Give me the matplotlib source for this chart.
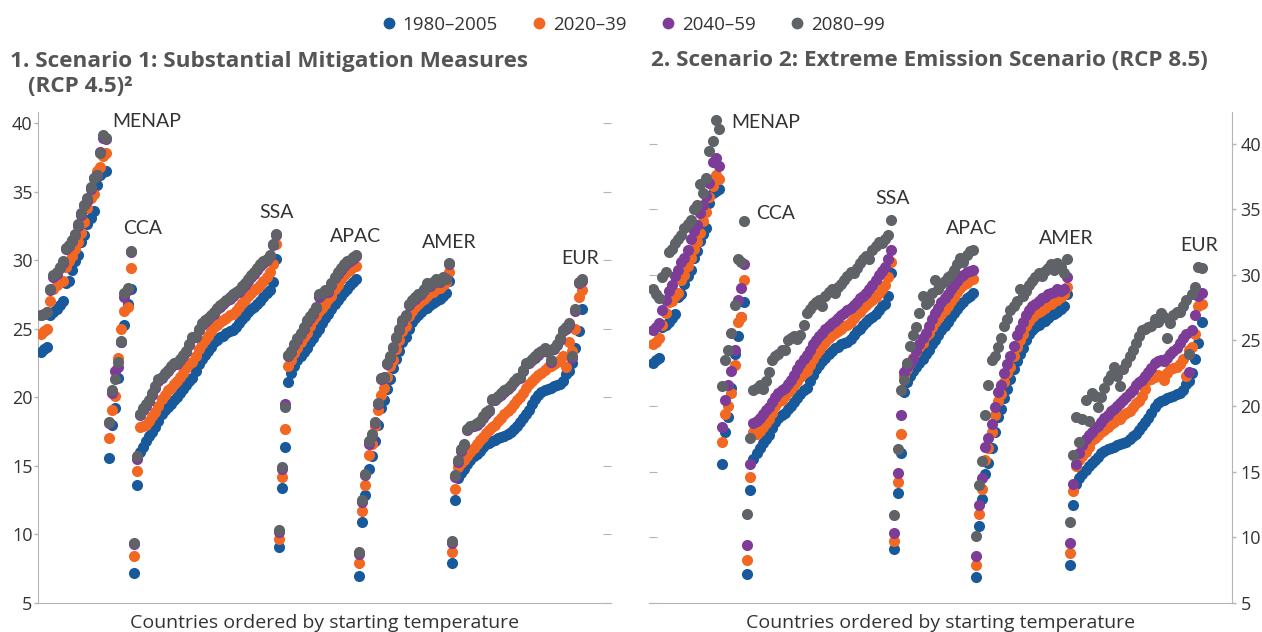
import matplotlib.pyplot as plt
from matplotlib.lines import Line2D

plt.rcParams['font.family'] = ['Open Sans', 'DejaVu Sans']

periods = ['1980–2005', '2020–39', '2040–59', '2080–99']
colors = ['#17599b', '#f26722', '#7d3c98', '#5f6368']
regions = ['MENAP', 'CCA', 'SSA', 'APAC', 'AMER', 'EUR']

# 1980-2005 baseline (same in both scenarios), countries ordered by starting temperature
menap_base = [23.3, 23.5, 23.7, 26.0, 26.2, 26.4, 26.7, 27.0, 28.3, 28.5, 29.3, 29.9, 30.4, 31.3, 31.8, 32.6,
              33.1, 33.6, 35.5, 36.2, 36.4, 36.5]
cca_base = [15.6, 18.0, 19.2, 21.4, 24.0, 25.3, 26.8, 27.9]
ssa_base = [7.2, 13.6, 16.0, 16.4, 16.8, 17.2, 17.5, 17.8, 18.3, 18.8, 19.1, 19.3, 19.5, 19.8, 20.0, 20.3,
            20.6, 20.9, 21.2, 21.4, 21.9, 22.4, 22.8, 23.1, 23.4, 23.7, 24.0, 24.2, 24.4, 24.5, 24.7, 24.8,
            24.9, 25.1, 25.4, 25.7, 25.9, 26.2, 26.4, 26.6, 26.8, 27.0, 27.3, 27.6, 27.8, 28.4, 30.1]
apac_base = [9.1, 13.4, 16.4, 21.1, 21.8, 22.3, 22.7, 23.0, 23.3, 23.6, 24.0, 24.3, 24.7, 25.0, 25.4, 25.8,
             26.1, 26.4, 26.8, 27.1, 27.4, 27.7, 27.9, 28.2, 28.4, 28.6]
amer_base = [7.0, 10.9, 12.9, 14.8, 15.7, 16.8, 18.0, 19.2, 19.8, 20.6, 21.3, 22.1, 22.8, 23.4, 24.0, 24.4,
             25.0, 25.5, 25.8, 26.0, 26.2, 26.4, 26.5, 26.7, 26.9, 27.0, 27.2, 27.4, 27.6, 28.5]
eur_base = [7.9, 12.5, 14.1, 14.5, 14.8, 15.1, 15.4, 15.7, 15.9, 16.1, 16.4, 16.6, 16.7, 16.8, 16.9, 17.0,
            17.1, 17.2, 17.3, 17.5, 17.7, 17.9, 18.2, 18.5, 18.8, 19.1, 19.5, 19.9, 20.2, 20.4, 20.5, 20.6,
            20.7, 20.8, 20.9, 21.0, 21.2, 21.7, 21.9, 22.5, 23.6, 24.8, 26.4]

# Scenario 1 (RCP 4.5)
menap_s1_2030 = [24.6, 24.8, 25.0, 27.0, 27.9, 28.2, 28.4, 28.5, 29.5, 29.9, 30.3, 30.8, 31.3, 32.0, 32.8, 33.8,
                 34.5, 34.8, 36.5, 36.8, 37.6, 37.8]
menap_s1_2050 = [26.0, 26.1, 26.2, 27.8, 28.8, 29.0, 29.4, 29.8, 30.8, 31.0, 31.4, 31.8, 32.5, 33.3, 34.0, 34.3,
                 35.2, 36.0, 36.2, 37.9, 38.9, 38.8]
menap_s1_2090 = [26.0, 26.1, 26.2, 27.9, 28.9, 29.1, 29.5, 29.9, 30.9, 31.1, 31.5, 31.9, 32.6, 33.4, 34.0, 34.5,
                 35.3, 36.0, 36.2, 37.8, 39.1, 38.9]
cca_s1_2030 = [17.0, 19.1, 20.1, 22.9, 25.0, 26.3, 26.6, 29.4]
cca_s1_2050 = [18.1, 20.3, 21.9, 22.2, 24.0, 27.3, 27.8, 30.6]
cca_s1_2090 = [18.2, 20.5, 21.3, 22.6, 24.1, 27.6, 28.0, 30.7]
ssa_s1_2030 = [8.4, 14.6, 17.8, 17.9, 18.0, 18.3, 18.6, 18.9, 19.4, 19.9, 20.2, 20.5, 20.7, 21.0, 21.2, 21.5,
               21.8, 22.1, 22.4, 22.6, 23.0, 23.5, 23.9, 24.2, 24.5, 24.8, 25.1, 25.3, 25.5, 25.6, 25.8, 26.0,
               26.1, 26.3, 26.6, 26.9, 27.1, 27.4, 27.6, 27.8, 28.0, 28.2, 28.5, 28.8, 29.1, 29.7, 31.2]
ssa_s1_2050 = [9.3, 15.5, 18.7, 19.1, 19.4, 19.7, 20.2, 20.7, 21.2, 21.4, 21.7, 21.9, 22.2, 22.4, 22.4, 22.7,
               23.0, 23.3, 23.8, 24.3, 24.4, 24.9, 25.3, 25.5, 25.7, 25.9, 26.1, 26.4, 26.6, 26.8, 27.0, 27.2,
               27.4, 27.6, 27.7, 28.0, 28.2, 28.5, 28.8, 29.0, 29.3, 29.6, 29.8, 30.0, 30.3, 31.1, 31.8]
ssa_s1_2090 = [9.4, 15.7, 18.8, 19.2, 19.5, 19.8, 20.3, 20.8, 21.3, 21.5, 21.8, 22.0, 22.3, 22.5, 22.5, 22.8,
               23.1, 23.4, 23.9, 24.4, 24.5, 25.0, 25.4, 25.6, 25.8, 26.0, 26.2, 26.5, 26.7, 26.9, 27.1, 27.3,
               27.5, 27.7, 27.8, 28.1, 28.3, 28.6, 28.9, 29.1, 29.4, 29.7, 29.9, 30.1, 30.4, 31.2, 31.9]
apac_s1_2030 = [9.7, 14.2, 17.7, 22.3, 22.7, 23.2, 23.6, 24.0, 24.4, 24.7, 25.2, 25.6, 25.9, 26.3, 26.5, 26.8,
                27.2, 27.4, 27.9, 28.2, 28.6, 28.9, 29.1, 29.3, 29.5, 29.6]
apac_s1_2050 = [10.2, 14.8, 19.5, 23.0, 23.3, 23.8, 24.2, 24.6, 25.0, 25.5, 25.8, 26.1, 26.5, 27.3, 27.5, 27.7,
                27.7, 28.2, 28.7, 29.0, 29.3, 29.6, 29.8, 29.9, 30.1, 30.3]
apac_s1_2090 = [10.3, 14.9, 19.3, 23.1, 23.4, 23.9, 24.3, 24.7, 25.1, 25.6, 25.9, 26.2, 26.6, 27.5, 27.6, 27.8,
                27.8, 28.3, 28.8, 29.1, 29.4, 29.7, 29.9, 30.0, 30.2, 30.4]
amer_s1_2030 = [7.9, 11.7, 13.6, 15.8, 16.6, 17.9, 19.1, 20.2, 20.7, 21.5, 22.3, 22.7, 23.5, 24.2, 24.8, 25.2,
                25.9, 26.3, 26.6, 26.8, 27.0, 27.2, 27.4, 27.6, 27.7, 27.9, 28.0, 28.2, 28.4, 29.1]
amer_s1_2050 = [8.6, 12.4, 14.3, 16.6, 17.2, 18.1, 19.5, 21.3, 21.4, 22.4, 22.9, 23.6, 24.3, 24.9, 25.5, 25.9,
                26.7, 27.0, 27.2, 27.4, 27.5, 27.8, 28.2, 28.1, 28.3, 28.5, 28.4, 28.7, 28.6, 29.7]
amer_s1_2090 = [8.7, 12.5, 14.4, 16.8, 17.3, 18.2, 19.6, 21.4, 21.5, 22.5, 23.0, 23.7, 24.4, 25.0, 25.6, 26.0,
                26.8, 27.1, 27.3, 27.5, 27.6, 27.9, 28.3, 28.2, 28.4, 28.6, 28.5, 28.8, 28.6, 29.8]
eur_s1_2030 = [8.7, 13.3, 14.9, 15.2, 15.4, 15.7, 16.0, 16.3, 16.6, 16.9, 17.1, 17.4, 17.6, 17.8, 18.0, 18.3,
               18.5, 18.8, 19.0, 19.2, 19.5, 19.8, 20.0, 20.3, 20.7, 21.0, 21.2, 21.4, 21.6, 21.8, 22.0, 22.2,
               22.3, 22.4, 22.6, 22.7, 23.0, 22.2, 24.0, 23.4, 25.0, 27.3, 27.8]
eur_s1_2050 = [9.4, 14.2, 15.3, 16.1, 16.5, 17.6, 17.8, 17.9, 18.0, 18.2, 18.5, 18.8, 19.0, 19.8, 19.8, 20.0,
               20.2, 20.4, 20.6, 20.8, 21.1, 21.3, 21.4, 21.9, 22.4, 22.5, 22.7, 22.9, 23.1, 23.3, 23.5, 23.3,
               22.6, 23.5, 23.8, 24.2, 24.8, 25.0, 25.3, 22.9, 26.3, 28.3, 28.5]
eur_s1_2090 = [9.5, 14.3, 15.4, 16.2, 16.6, 17.7, 17.9, 18.0, 18.1, 18.3, 18.6, 18.9, 19.1, 19.9, 19.9, 20.1,
               20.3, 20.5, 20.7, 20.9, 21.2, 21.4, 21.5, 22.0, 22.5, 22.6, 22.8, 23.0, 23.2, 23.4, 23.6, 23.4,
               22.7, 23.6, 23.9, 24.3, 24.9, 25.1, 25.4, 23.0, 26.4, 28.4, 28.6]

# Scenario 2 (RCP 8.5)
menap_s2_2030 = [24.7, 24.9, 25.2, 26.2, 27.1, 27.9, 28.0, 28.4, 28.6, 29.6, 30.0, 30.7, 31.3, 32.0, 32.5, 33.2,
                 34.1, 34.8, 35.9, 36.8, 37.6, 37.3]
menap_s2_2050 = [25.8, 26.0, 26.3, 27.3, 28.1, 28.8, 29.2, 29.9, 30.4, 31.0, 31.3, 31.9, 32.7, 33.3, 33.8, 34.7,
                 35.3, 36.0, 37.0, 38.6, 38.9, 38.3]
menap_s2_2090 = [28.9, 28.5, 28.2, 29.8, 30.2, 31.7, 32.0, 32.4, 32.7, 33.0, 33.6, 33.9, 34.2, 35.0, 35.3, 36.9,
                 36.2, 37.4, 39.4, 40.2, 41.8, 41.1]
cca_s2_2030 = [17.3, 19.4, 20.0, 21.0, 23.1, 26.4, 26.8, 29.6]
cca_s2_2050 = [18.4, 20.5, 21.6, 22.7, 24.3, 28.1, 29.0, 30.8]
cca_s2_2090 = [21.5, 23.5, 24.3, 25.6, 27.7, 31.2, 31.0, 34.1]
ssa_s2_2030 = [8.3, 14.6, 18.0, 17.9, 18.1, 18.4, 18.7, 19.0, 19.5, 20.0, 20.3, 20.5, 20.8, 21.1, 21.3, 21.6,
               21.9, 22.2, 22.5, 22.7, 23.1, 23.6, 24.0, 24.3, 24.6, 24.9, 25.2, 25.4, 25.6, 25.7, 25.9, 26.1,
               26.2, 26.4, 26.7, 27.0, 27.2, 27.5, 27.7, 27.9, 28.1, 28.3, 28.6, 28.9, 29.2, 29.8, 31.0]
ssa_s2_2050 = [9.4, 15.6, 18.7, 18.9, 19.1, 19.4, 19.7, 19.9, 20.3, 20.7, 21.0, 21.2, 21.4, 21.7, 22.0, 22.4,
               22.8, 23.2, 23.6, 23.9, 24.3, 24.7, 25.0, 25.3, 25.6, 25.9, 26.1, 26.3, 26.5, 26.7, 26.9, 27.1,
               27.3, 27.5, 27.7, 27.9, 28.2, 28.4, 28.6, 28.9, 29.2, 29.6, 30.0, 30.3, 30.6, 31.2, 31.9]
ssa_s2_2090 = [11.8, 17.6, 21.2, 21.4, 21.6, 21.3, 21.9, 22.6, 23.5, 23.8, 24.0, 24.3, 24.3, 25.0, 25.2, 25.3,
               25.1, 25.4, 26.2, 27.1, 27.4, 27.7, 27.9, 28.1, 27.6, 28.4, 28.7, 28.9, 28.6, 29.1, 29.3, 29.6,
               29.9, 30.2, 30.1, 30.5, 30.9, 31.2, 31.4, 31.2, 31.9, 32.2, 32.5, 32.4, 32.7, 33.0, 34.2]
apac_s2_2030 = [9.7, 14.2, 17.9, 22.3, 22.8, 23.3, 23.7, 24.1, 24.5, 24.8, 25.3, 25.6, 26.0, 26.4, 26.7, 27.0,
                27.3, 27.6, 28.0, 28.3, 28.7, 29.0, 29.2, 29.4, 29.6, 29.7]
apac_s2_2050 = [10.3, 14.9, 19.3, 22.6, 23.0, 23.3, 23.6, 24.2, 24.7, 25.2, 25.6, 26.1, 26.6, 27.1, 27.5, 27.9,
                28.2, 28.5, 28.9, 29.2, 29.5, 29.8, 30.0, 30.2, 30.3, 30.4]
apac_s2_2090 = [11.7, 16.7, 21.2, 22.0, 23.3, 24.6, 25.4, 26.0, 27.1, 28.4, 27.8, 28.0, 28.6, 29.6, 28.9, 29.3,
                29.5, 29.8, 30.0, 30.4, 30.8, 31.3, 31.0, 31.5, 31.8, 31.9]
amer_s2_2030 = [7.9, 11.8, 13.7, 15.9, 16.8, 18.0, 19.3, 20.4, 20.9, 21.8, 22.5, 23.0, 23.8, 24.5, 25.0, 25.5,
                26.1, 26.5, 26.8, 27.0, 27.2, 27.3, 27.5, 27.7, 27.8, 28.0, 28.1, 28.3, 28.5, 29.1]
amer_s2_2050 = [8.6, 12.5, 14.5, 16.9, 17.6, 18.6, 19.9, 21.1, 21.6, 22.5, 23.2, 23.8, 24.6, 25.4, 25.9, 26.4,
                26.9, 27.3, 27.6, 27.8, 28.0, 28.2, 28.3, 28.5, 28.6, 28.7, 28.9, 28.8, 28.9, 29.8]
amer_s2_2090 = [10.1, 14.0, 15.8, 19.3, 21.6, 23.5, 23.8, 24.5, 25.2, 26.1, 26.6, 27.3, 27.6, 28.0, 28.9, 28.4,
                28.8, 29.2, 29.5, 29.8, 30.1, 29.9, 30.3, 30.5, 30.8, 30.4, 30.9, 30.6, 30.1, 31.2]
eur_s2_2030 = [8.8, 13.5, 15.4, 15.9, 16.2, 16.5, 16.9, 17.4, 17.6, 17.8, 18.0, 18.2, 18.4, 18.6, 18.8, 19.0,
               19.0, 19.3, 19.5, 19.6, 19.9, 20.2, 20.4, 20.8, 21.3, 22.0, 22.1, 22.2, 22.4, 22.3, 22.0, 22.5,
               22.8, 22.9, 23.0, 23.2, 23.6, 22.3, 24.3, 24.5, 25.5, 27.6, 27.8]
eur_s2_2050 = [9.6, 14.1, 15.6, 16.4, 17.0, 17.5, 17.8, 18.0, 18.3, 18.5, 18.8, 19.1, 19.3, 19.6, 19.8, 20.0,
               20.2, 20.5, 20.7, 21.0, 21.2, 21.6, 21.8, 22.0, 22.3, 22.6, 22.9, 23.3, 23.4, 23.5, 23.4, 23.7,
               24.0, 24.2, 24.4, 24.8, 25.2, 25.5, 22.6, 25.8, 26.9, 28.4, 28.6]
eur_s2_2090 = [11.2, 16.3, 19.2, 17.3, 19.0, 20.5, 18.9, 21.0, 20.8, 19.9, 20.7, 21.4, 22.0, 22.4, 23.0, 22.3,
               21.5, 22.8, 23.3, 23.8, 24.3, 24.8, 25.3, 25.8, 25.9, 26.0, 26.1, 26.6, 26.4, 27.1, 26.8, 25.2,
               26.3, 26.9, 27.2, 27.2, 27.6, 28.1, 24.0, 28.5, 29.1, 30.6, 30.5]

base = [menap_base, cca_base, ssa_base, apac_base, amer_base, eur_base]
scen1 = [base,
         [menap_s1_2030, cca_s1_2030, ssa_s1_2030, apac_s1_2030, amer_s1_2030, eur_s1_2030],
         [menap_s1_2050, cca_s1_2050, ssa_s1_2050, apac_s1_2050, amer_s1_2050, eur_s1_2050],
         [menap_s1_2090, cca_s1_2090, ssa_s1_2090, apac_s1_2090, amer_s1_2090, eur_s1_2090]]
scen2 = [base,
         [menap_s2_2030, cca_s2_2030, ssa_s2_2030, apac_s2_2030, amer_s2_2030, eur_s2_2030],
         [menap_s2_2050, cca_s2_2050, ssa_s2_2050, apac_s2_2050, amer_s2_2050, eur_s2_2050],
         [menap_s2_2090, cca_s2_2090, ssa_s2_2090, apac_s2_2090, amer_s2_2090, eur_s2_2090]]

# where the region names sit (data coords)
labels_s1 = [(23.0, 40.1), (26.5, 32.3), (70.6, 33.5), (93.5, 31.7), (123.2, 31.3), (168.5, 30.1)]
labels_s2 = [(25.1, 41.6), (32.9, 34.7), (70.8, 35.8), (93.5, 33.5), (123.1, 32.8), (168.1, 32.2)]

text_col = '#333333'
axis_col = '#b5b5b5'

fig = plt.figure(figsize=(12.62, 6.32), dpi=100)
ax1 = fig.add_axes([38 / 1262, 29 / 632, 573 / 1262, 491 / 632])
ax2 = fig.add_axes([649 / 1262, 29 / 632, 583 / 1262, 491 / 632])


def draw(ax, scen, labels, ylim):
    for vals, col in zip(scen, colors):
        ys = []
        for part in vals:
            ys += part
        ax.scatter(range(len(ys)), ys, s=64, color=col, linewidths=0, zorder=3)
    for name, (x, y) in zip(regions, labels):
        ax.text(x, y, name, fontsize=14, color=text_col, va='center', ha='left', family='Lato')
    ax.set_ylim(*ylim)
    ax.set_yticks(range(5, 45, 5))
    ax.set_xticks([])
    for sp in ax.spines.values():
        sp.set_color(axis_col)
    ax.tick_params(axis='y', labelsize=13, labelcolor=text_col, color=axis_col, length=3, width=1)
    ax.text(0.5, -0.051, 'Countries ordered by starting temperature', transform=ax.transAxes,
            ha='center', va='baseline', fontsize=14, color=text_col)


draw(ax1, scen1, labels_s1, (5, 40.8))
ax1.set_xlim(-1, 184.5)
ax1.spines['top'].set_visible(False)
ax1.spines['right'].set_visible(False)
ax1.tick_params(axis='y', pad=1)
sec1 = ax1.secondary_yaxis('right')
sec1.set_yticks(range(5, 45, 5))
sec1.spines['right'].set_visible(False)
sec1.tick_params(axis='y', direction='in', length=6, color=axis_col, labelright=False)

draw(ax2, scen2, labels_s2, (5, 42.4))
ax2.set_xlim(-1.3, 184.7)
ax2.spines['top'].set_visible(False)
ax2.spines['left'].set_visible(False)
ax2.yaxis.tick_right()
ax2.tick_params(axis='y', pad=3)
sec2 = ax2.secondary_yaxis('left')
sec2.set_yticks(range(5, 45, 5))
sec2.spines['left'].set_visible(False)
sec2.tick_params(axis='y', direction='in', length=6, color=axis_col, labelleft=False)

title_col = '#555555'
fig.text(10 / 1262, 1 - 61 / 632, '1. Scenario 1: Substantial Mitigation Measures', fontsize=16.2,
         fontweight='bold', color=title_col, va='center')
fig.text(28 / 1262, 1 - 87 / 632, '(RCP 4.5)²', fontsize=16.2, fontweight='bold', color=title_col, va='center')
fig.text(651 / 1262, 1 - 61 / 632, '2. Scenario 2: Extreme Emission Scenario (RCP 8.5)', fontsize=16.2,
         fontweight='bold', color=title_col, va='center')

handles = [Line2D([], [], marker='o', linestyle='none', markersize=8.5, markerfacecolor=c,
                  markeredgewidth=0) for c in colors]
fig.legend(handles, periods, loc='center', bbox_to_anchor=(633 / 1262, 1 - 25 / 632), ncol=4, frameon=False,
           fontsize=13.5, handlelength=0.8, handletextpad=0.35, columnspacing=1.8, labelcolor=text_col)

fig.savefig('out.png', dpi=100)
